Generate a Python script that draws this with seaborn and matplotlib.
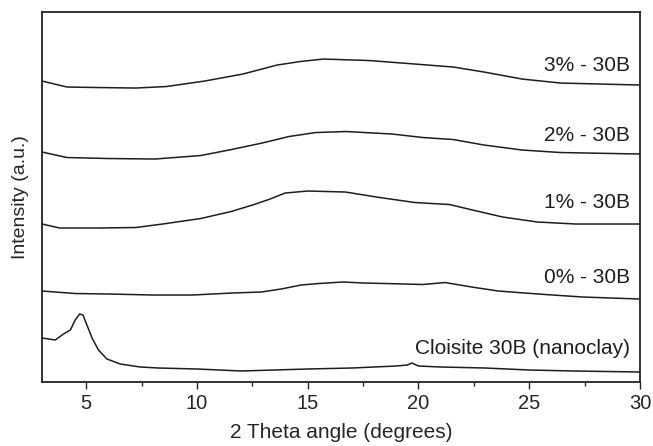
import pandas as pd
import matplotlib.pyplot as plt
import seaborn as sns
from matplotlib.ticker import MultipleLocator

# Data (intensity in arbitrary units, curves already offset)
clay_x = [3, 3.6, 3.97, 4.28, 4.5, 4.7, 4.85, 5.03, 5.26, 5.55, 5.93, 6.53, 7.44, 8.25, 10, 12,
          13.5, 15, 17, 19, 19.5, 19.7, 20, 21, 23, 25, 27, 30]
clay_y = [44, 42, 48, 52, 62, 68, 67, 57, 44, 32, 23, 18, 15, 14, 13, 11,
          12, 13, 14, 16, 17, 19, 16, 15, 14, 12, 11, 10]

p0_x = [3, 4.5, 6, 8, 9.8, 11.6, 12.9, 13.8, 14.7, 15.5, 16.6, 17.5, 18.5, 20.2, 21.2, 22.4,
        23.6, 25.4, 27.4, 30]
p0_y = [91, 88.5, 88, 87, 87, 89, 90, 93, 97, 98.5, 100, 99, 98.5, 97.5, 99.5, 95,
        91, 88, 85, 83]

p1_x = [3, 3.8, 5.5, 7.24, 8.45, 10.17, 11.54, 12.58, 13.3, 13.98, 15, 16.7, 18.1, 19.84,
        21.4, 22.44, 23.8, 25.37, 27.1, 30]
p1_y = [158, 154, 154, 154.5, 158, 163.5, 170.5, 177.5, 183, 189, 191, 190, 185, 179.5,
        177.5, 172, 165, 160, 158, 158]

p2_x = [3, 4.13, 6, 8.1, 10.17, 11.56, 12.94, 14.15, 15.36, 16.73, 18.81, 20.2, 21.57,
        22.96, 24.68, 26.41, 30]
p2_y = [230, 224.5, 223.5, 223, 226.5, 232.5, 239, 245.5, 249.5, 250.5, 248, 244.5, 242.5,
        237, 232, 229.5, 228]

p3_x = [3, 4.13, 5.5, 7.24, 8.62, 10.35, 12.07, 13.62, 14.66, 15.7, 17.77, 19.84, 21.57,
        22.96, 24.68, 26.41, 30]
p3_y = [301, 295, 294.5, 294, 295.5, 301, 308, 317, 320.5, 323, 321.5, 318, 315,
        310, 303, 299, 297]

names = ['Cloisite 30B (nanoclay)', '0% - 30B', '1% - 30B', '2% - 30B', '3% - 30B']
label_y = [34, 105, 180, 247, 317]

frames = []
for name, xs, ys in zip(names, [clay_x, p0_x, p1_x, p2_x, p3_x], [clay_y, p0_y, p1_y, p2_y, p3_y]):
    frames.append(pd.DataFrame({'angle': xs, 'intensity': ys, 'sample': name}))
data = pd.concat(frames, ignore_index=True)

sns.set_style('white')
plt.rcParams['font.family'] = ['Liberation Sans', 'DejaVu Sans']

fig = plt.figure(figsize=(6.53, 4.46), dpi=100)
ax = fig.add_axes([0.0643, 0.1435, 0.9157, 0.8295])

sns.lineplot(data=data, x='angle', y='intensity', hue='sample',
             palette=['#1e1e1e'] * len(names), estimator=None, sort=False,
             linewidth=1.1, legend=False, ax=ax)

for name, ly in zip(names, label_y):
    ax.text(29.55, ly, name, ha='right', va='center', fontsize=15, color='#1e1e1e')

ax.set_xlim(3, 30)
ax.set_ylim(0, 370)
ax.set_yticks([])
ax.xaxis.set_major_locator(MultipleLocator(5))
ax.xaxis.set_minor_locator(MultipleLocator(2.5))
ax.tick_params(axis='x', which='major', direction='out', length=5, width=1, labelsize=14.5,
               bottom=True, pad=4)
ax.tick_params(axis='x', which='minor', direction='out', length=3, width=1, bottom=True)
for s in ax.spines.values():
    s.set_linewidth(1.3)
    s.set_color('#222222')

ax.set_xlabel('2 Theta angle (degrees)', fontsize=15, labelpad=7)
ax.set_ylabel('Intensity (a.u.)', fontsize=14, labelpad=9)

fig.savefig('out.png', dpi=100)
